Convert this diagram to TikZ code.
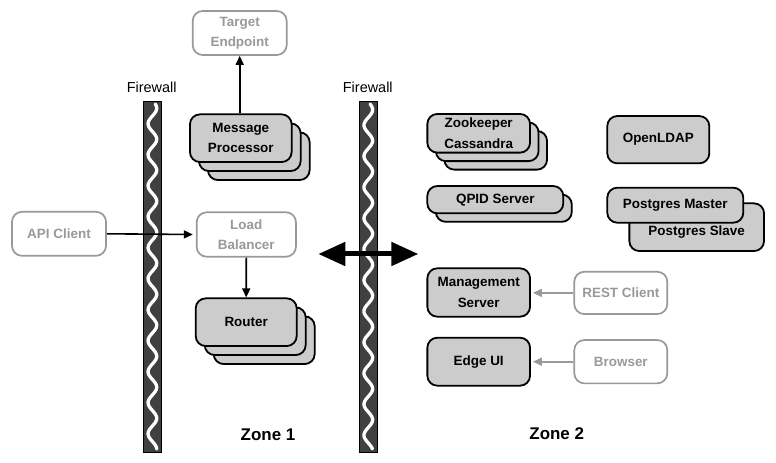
\documentclass[tikz,border=0pt]{standalone}
\usepackage{fontspec}
\setmainfont{Liberation Sans}
\usetikzlibrary{arrows.meta}
\definecolor{fwgray}{HTML}{404040}
\definecolor{boxfill}{HTML}{CCCCCC}
\definecolor{extgray}{HTML}{999999}
\newcommand{\nodefont}{\fontsize{13.5}{20.5}\selectfont\bfseries}
\tikzset{
  comp/.style={draw=black, line width=1.8bp, fill=boxfill, rounded corners=10bp, inner sep=0pt, align=center, font=\nodefont},
  ext/.style={draw=extgray, line width=1.7bp, fill=white, rounded corners=10bp, inner sep=0pt, align=center, text=extgray, font=\nodefont},
  sz/.style 2 args={minimum width=#1bp, minimum height=#2bp},
  fwbox/.style={draw=black, line width=0.9bp, fill=fwgray, inner sep=0pt, minimum width=18.2bp, minimum height=350.3bp},
  fwwave/.style={draw=white, line width=3.3bp, line cap=round},
  fwlabel/.style={font=\fontsize{14.5}{16}\selectfont},
  zonelabel/.style={font=\fontsize{17}{20}\selectfont\bfseries},
  flow/.style={-{Triangle[length=9bp,width=8bp]}, line width=1.6bp},
  gflow/.style={flow, draw=extgray, fill=extgray},
  bigarrow/.style={{Triangle[length=27bp,width=23bp]}-{Triangle[length=27bp,width=23bp]}, line width=5bp},
}
\begin{document}
\begin{tikzpicture}[x=1bp, y=-1bp]
\useasboundingbox (0,0) rectangle (776,463);

% Firewalls
\node[fwbox] (fw1) at (152.4,276.85) {};
\draw[fwwave] plot[domain=104:449, samples=140, smooth] ({152.4+4.4*sin(11.6129*(\x-100.5))}, \x);
\node[fwlabel] (fw1lab) at (151.7,87.3) {Firewall};
\node[fwbox] (fw2) at (368.3,276.85) {};
\draw[fwwave] plot[domain=104:449, samples=140, smooth] ({368.3+4.4*sin(11.6129*(\x-102))}, \x);
\node[fwlabel] (fw2lab) at (367.8,87.3) {Firewall};

% Zone 1
\node[ext, sz={94}{44}] (te) at (239.7,33) {Target\\Endpoint};
\node[comp, sz={101.7}{47.7}] (mp3) at (258.8,156.2) {};
\node[comp, sz={101.7}{47.7}] (mp2) at (249.8,147.2) {};
\node[comp, sz={101.7}{47.7}] (mp) at (240.8,138.2) {Message\\Processor};
\node[ext, sz={94}{44}] (api) at (59,233.8) {API Client};
\node[ext, sz={99.3}{44.4}] (lb) at (246.3,234.5) {Load\\Balancer};
\node[comp, sz={101}{47.7}] (rt3) at (264.2,340.2) {};
\node[comp, sz={101}{47.7}] (rt2) at (255.2,331.2) {};
\node[comp, sz={101}{47.7}] (rt) at (246.2,322.2) {Router};

\draw[flow] (mp.north -| te.south) -- (te.south);
\draw[flow] (api.east) -- ([xshift=-3bp]lb.west);
\draw[flow] (lb.south) -- (rt.north);

% Zone 2
\node[comp, sz={102.7}{38.7}] (zk3) at (495.7,150.3) {};
\node[comp, sz={102.7}{38.7}] (zk2) at (487.2,141.8) {};
\node[comp, sz={102.7}{38.7}] (zk) at (478.7,133.3) {Zookeeper\\Cassandra};
\node[comp, sz={102}{47.3}] (ldap) at (658.3,139.7) {OpenLDAP};
\node[comp, sz={136}{27.3}] (qpid2) at (503.8,208.2) {};
\node[comp, sz={136}{27.3}] (qpid) at (495.3,199.7) {QPID Server};
\node[comp, sz={134.7}{47.7}] (pgs) at (696.7,227.2) {~\\Postgres Slave};
\node[comp, sz={136}{35}] (pgm) at (675.3,205.2) {Postgres Master};
\node[comp, sz={102.7}{48.4}] (ms) at (478.7,292.5) {Management\\Server};
\node[ext, sz={93}{42.3}] (rest) at (620.8,292.9) {REST Client};
\node[comp, sz={102.7}{48}] (eui) at (478.7,361.7) {Edge UI};
\node[ext, sz={93}{43.3}] (br) at (620.8,361.7) {Browser};

\draw[gflow] (rest.west) -- ([xshift=2bp]ms.east |- rest.west);
\draw[gflow] (br.west) -- ([xshift=2bp]eui.east |- br.west);

% Inter-zone arrow
\coordinate (da1) at (318.3,254);
\coordinate (da2) at (418.3,254);
\draw[bigarrow] (da1) -- (da2);

\node[zonelabel] (z1) at (268,434.5) {Zone 1};
\node[zonelabel] (z2) at (556.7,434) {Zone 2};
\end{tikzpicture}
\end{document}
